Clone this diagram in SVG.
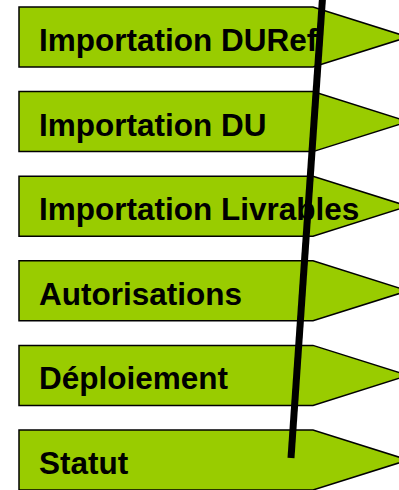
<svg xmlns="http://www.w3.org/2000/svg" width="399" height="490" viewBox="0 0 399 490">
<style>
.arrow{fill:#99cc00;stroke:#000;stroke-width:1.5;stroke-linejoin:miter}
.lbl{font-family:"Liberation Sans",Arial,sans-serif;font-weight:bold;font-size:31.5px;fill:#000}
.bar{stroke:#000;stroke-width:7;fill:none}
</style>
<defs>
<path id="shape" d="M19,0 H313 L408,30 L313,60 H19 Z"/>
</defs>
<rect width="399" height="490" fill="#fff"/>
<g id="node-duref" transform="translate(0,7)">
<use href="#shape" class="arrow"/>
<text class="lbl" x="39" y="44">Importation DURef</text>
</g>
<g id="node-du" transform="translate(0,91.6)">
<use href="#shape" class="arrow"/>
<text class="lbl" x="39" y="44">Importation DU</text>
</g>
<g id="node-livrables" transform="translate(0,176.2)">
<use href="#shape" class="arrow"/>
<text class="lbl" x="39" y="44">Importation Livrables</text>
</g>
<g id="node-autorisations" transform="translate(0,260.8)">
<use href="#shape" class="arrow"/>
<text class="lbl" x="39" y="44">Autorisations</text>
</g>
<g id="node-deploiement" transform="translate(0,345.4)">
<use href="#shape" class="arrow"/>
<text class="lbl" x="39" y="44">Déploiement</text>
</g>
<g id="node-statut" transform="translate(0,430)">
<use href="#shape" class="arrow"/>
<text class="lbl" x="39" y="44">Statut</text>
</g>
<g id="connectors">
<line class="bar" x1="322.5" y1="-2" x2="291" y2="458"/>
</g>
</svg>
